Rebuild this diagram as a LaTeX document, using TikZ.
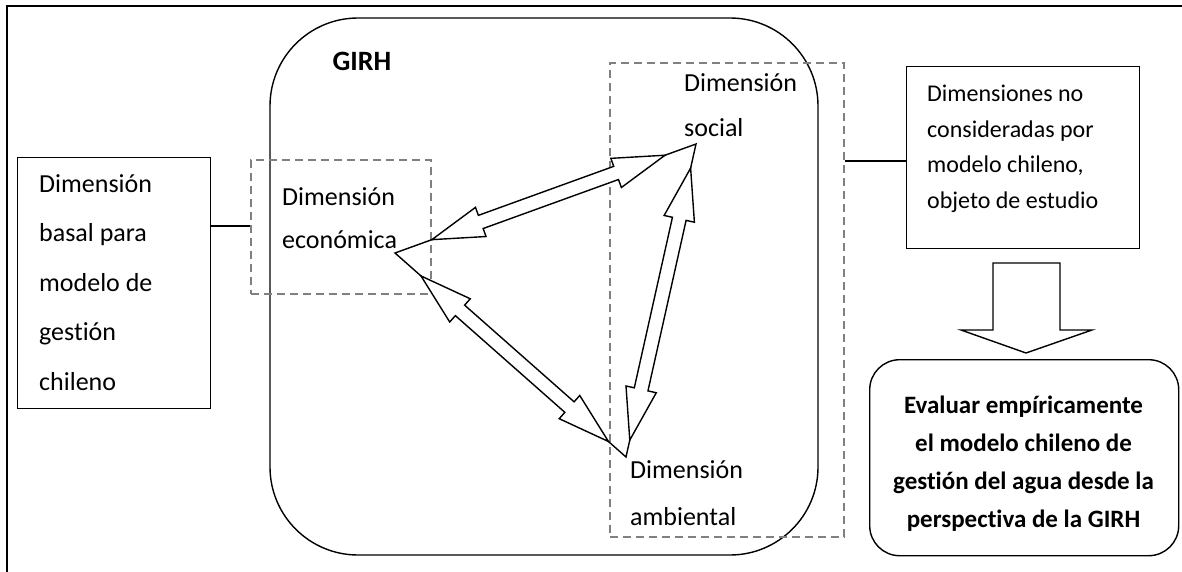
\documentclass[tikz,border=0pt]{standalone}
\usepackage{fontspec}
\setmainfont{Carlito}[Ligatures={NoCommon}]
\usetikzlibrary{calc}
\tikzset{
  frame/.style={line width=1.4pt},
  solidbox/.style={draw, line width=1.4pt, inner sep=0pt},
  dashbox/.style={draw=black!50, dash pattern=on 8pt off 5pt, line width=1.7pt, inner sep=0pt},
  txt/.style={align=left, inner sep=0pt, anchor=west},
  blockarrow/.style={draw, fill=white, line width=1.4pt, line join=miter},
}
\newcommand\dblarrow[3]{%
  \coordinate (#1c1) at ($(#2)!52pt!(#3)$);
  \coordinate (#1c2) at ($(#3)!52pt!(#2)$);
  \draw[blockarrow] (#2)
    -- ($(#1c1)!15.5pt!90:(#3)$) -- ($(#1c1)!7pt!90:(#3)$)
    -- ($(#1c2)!7pt!-90:(#2)$) -- ($(#1c2)!15.5pt!-90:(#2)$)
    -- (#3)
    -- ($(#1c2)!15.5pt!90:(#2)$) -- ($(#1c2)!7pt!90:(#2)$)
    -- ($(#1c1)!7pt!-90:(#3)$) -- ($(#1c1)!15.5pt!-90:(#3)$)
    -- cycle;
}
\begin{document}
\begin{tikzpicture}[x=1pt,y=-1pt]
\useasboundingbox (0,0) rectangle (1182,572);
% outer frame
\draw[frame] (7,572) -- (7,6) -- (1182,6);
% GIRH box
\draw[frame, rounded corners=88pt] (270,18) rectangle (818,555);
\node[inner sep=0pt, font=\fontsize{28}{30}\selectfont\bfseries] (girh) at (362,61) {GIRH};
% left box
\node[solidbox, minimum width=193pt, minimum height=251pt, anchor=north west] (basal) at (17,157) {};
\node[txt, font=\fontsize{26}{49.5}\selectfont] (basaltxt) at (39,282.5) {Dimensión\\basal para\\modelo de\\gestión\\chileno};
% dashed boxes
\node[dashbox, minimum width=180pt, minimum height=134pt, anchor=north west] (econ) at (250,159) {};
\node[dashbox, minimum width=234pt, minimum height=474pt, anchor=north west] (soc) at (609,62) {};
\node[txt, font=\fontsize{26}{43}\selectfont] (econtxt) at (282,218.5) {Dimensión\\económica};
\node[txt, font=\fontsize{26}{45}\selectfont] (soctxt) at (684,105) {Dimensión\\social};
\node[txt, font=\fontsize{26}{47}\selectfont] (ambtxt) at (630,493.5) {Dimensión\\ambiental};
% right box
\node[solidbox, minimum width=233pt, minimum height=182pt, anchor=north west] (dims) at (906,66) {};
\node[txt, font=\fontsize{24}{35.5}\selectfont] (dimstxt) at (927,149) {Dimensiones no\\consideradas por\\modelo chileno,\\objeto de estudio};
% bottom rounded box
\node[solidbox, rounded corners=30pt, minimum width=309pt, minimum height=196pt, anchor=north west] (eval) at (869,359) {};
\node[align=center, inner sep=0pt, font=\fontsize{25}{38}\selectfont\bfseries] (evaltxt) at (1023.5,463.5) {Evaluar empíricamente\\el modelo chileno de\\gestión del agua desde la\\perspectiva de la GIRH};
% connectors
\coordinate (c1) at (230,226);
\coordinate (c2) at (870,161);
\draw[frame] (c1 -| basal.east) -- (c1 -| econ.west);
\draw[frame] (c2 -| soc.east) -- (c2 -| dims.west);
% down block arrow
\draw[blockarrow] (993,263) -- (1060,263) -- (1060,330) -- (1092,330) -- (1026,353) -- (961,330) -- (993,330) -- cycle;
% triangle corners
\coordinate (E) at (395,253);
\coordinate (S) at (696,144);
\coordinate (A) at (626,457);
\draw[frame] (E) -- (S) -- (A) -- cycle;
\coordinate (a1s) at ($(E)!0.1225!(S)$);
\coordinate (a1e) at ($(E)!0.897!(S)$);
\coordinate (a2s) at ($(E)!0.1126!(A)$);
\coordinate (a2e) at ($(E)!0.924!(A)$);
\coordinate (a3s) at ($(S)!0.077!(A)$);
\coordinate (a3e) at ($(S)!0.946!(A)$);
\dblarrow{ar1}{a1s}{a1e}
\dblarrow{ar2}{a2s}{a2e}
\dblarrow{ar3}{a3s}{a3e}
\end{tikzpicture}
\end{document}
